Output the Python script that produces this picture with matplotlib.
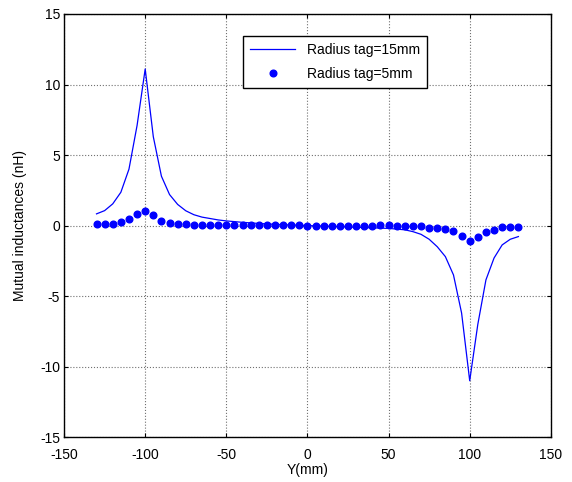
import numpy as np
import matplotlib
matplotlib.use('Agg')
import matplotlib.pyplot as plt

plt.rcParams['font.family'] = ['Liberation Sans', 'DejaVu Sans']
plt.rcParams['axes.unicode_minus'] = False

# Y positions (mm), -130 ... 130 step 5
y_mm = np.arange(-130, 131, 5)

# Radius tag = 15 mm (line)
m_15 = [0.83, 1.06, 1.54, 2.36, 4.0, 7.1, 11.1, 6.3, 3.5, 2.2, 1.5, 1.05, 0.77,
        0.6, 0.5, 0.4, 0.33, 0.28, 0.23, 0.19, 0.15, 0.12, 0.09, 0.06, 0.04, 0.02,
        0.0,
        -0.02, -0.04, -0.06, -0.08, -0.1, -0.12, -0.14, -0.16, -0.18, -0.2, -0.25,
        -0.3, -0.43, -0.62, -0.97, -1.5, -2.2, -3.5, -6.2, -11.0, -7.0, -3.85,
        -2.3, -1.37, -0.97, -0.78]

# Radius tag = 5 mm (dots)
m_5 = [0.12, 0.12, 0.12, 0.28, 0.47, 0.82, 1.05, 0.73, 0.35, 0.19, 0.12, 0.1, 0.05,
       0.04, 0.04, 0.04, 0.03, 0.03, 0.03, 0.03, 0.03, 0.03, 0.03, 0.03, 0.03, 0.03,
       -0.02,
       -0.05, -0.05, -0.05, -0.05, -0.05, -0.05, -0.05, -0.05,
       0.02, 0.02, 0.0, 0.0, -0.02, -0.02, -0.14, -0.14, -0.24, -0.38, -0.73,
       -1.09, -0.83, -0.47, -0.31, -0.12, -0.12, -0.12]

fig = plt.figure(figsize=(5.72, 4.82), dpi=100)
ax = fig.add_axes([0.112, 0.093, 0.851, 0.878])

ax.plot(y_mm, m_15, '-', color='#0000ff', linewidth=0.9, label='Radius tag=15mm')
ax.plot(y_mm, m_5, 'o', color='#0000ff', markersize=4.8, linestyle='none',
        label='Radius tag=5mm')

ax.set_xlim(-150, 150)
ax.set_ylim(-15, 15)
ax.set_xticks(np.arange(-150, 151, 50))
ax.set_yticks(np.arange(-15, 16, 5))
ax.grid(True, linestyle=':', color='#707070', linewidth=0.8)
ax.tick_params(direction='in', top=True, right=True, labelsize=10, length=3)
ax.tick_params(axis='x', pad=7.5)
ax.tick_params(axis='y', pad=3)
for s in ax.spines.values():
    s.set_linewidth(1.0)

ax.set_xlabel('Y(mm)', fontsize=10, labelpad=1)
ax.set_ylabel('Mutual inductances (nH)', fontsize=10, labelpad=9)

leg = ax.legend(loc='upper left', bbox_to_anchor=(0.367, 0.948), borderaxespad=0,
                fontsize=10, fancybox=False, framealpha=1, edgecolor='black',
                borderpad=0.5, handlelength=3.3, labelspacing=0.75)
leg.get_frame().set_linewidth(1.0)

fig.savefig('out.png', dpi=100)
